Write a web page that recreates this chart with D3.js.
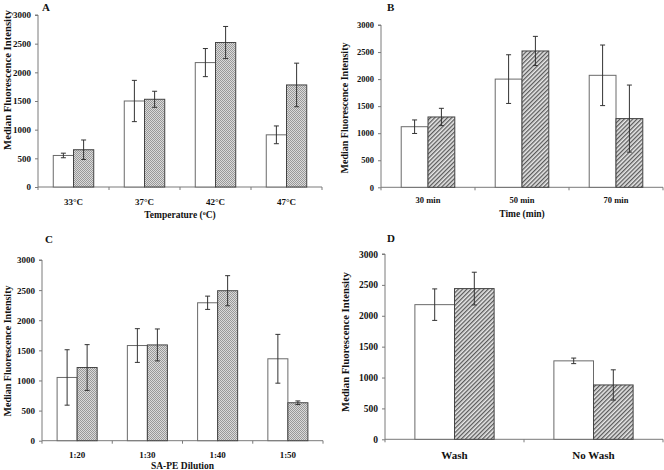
<!DOCTYPE html>
<html><head><meta charset="utf-8">
<script src="https://cdn.jsdelivr.net/npm/d3@7"></script>
<style>body{margin:0;background:#fff}svg{display:block}text{font-family:"Liberation Serif","Times New Roman",serif;font-weight:bold;fill:#111}</style>
</head><body>
<svg id="c" width="664" height="470"></svg>
<script>
// Panel A: Temperature
const catsA = ["33°C","37°C","42°C","47°C"];
const openA = [550,1500,2170,910];
const openErrA = [40,360,245,155];
const hatchA = [650,1530,2520,1780];
const hatchErrA = [170,140,280,380];
// Panel B: Time
const catsB = ["30 min","50 min","70 min"];
const openB = [1120,2000,2070];
const openErrB = [125,450,560];
const hatchB = [1300,2520,1270];
const hatchErrB = [160,270,620];
// Panel C: SA-PE Dilution
const catsC = ["1:20","1:30","1:40","1:50"];
const openC = [1050,1580,2290,1360];
const openErrC = [460,280,110,405];
const hatchC = [1215,1590,2490,630];
const hatchErrC = [380,265,250,30];
// Panel D: Wash
const catsD = ["Wash","No Wash"];
const openD = [2180,1270];
const openErrD = [255,45];
const hatchD = [2440,880];
const hatchErrD = [265,245];
const yTicks = [0,500,1000,1500,2000,2500,3000];

const svg = d3.select("#c");
const defs = svg.append("defs");
// checker pattern
const pc = defs.append("pattern").attr("id","chk").attr("patternUnits","userSpaceOnUse").attr("width",2).attr("height",2);
pc.append("rect").attr("width",2).attr("height",2).attr("fill","#dadada");
pc.append("rect").attr("width",1).attr("height",1).attr("fill","#999");
pc.append("rect").attr("x",1).attr("y",1).attr("width",1).attr("height",1).attr("fill","#999");
// diagonal pattern
const pd = defs.append("pattern").attr("id","diag").attr("patternUnits","userSpaceOnUse").attr("width",3).attr("height",3).attr("patternTransform","rotate(45)");
pd.append("rect").attr("width",3).attr("height",3).attr("fill","#e8e8e8");
pd.append("rect").attr("width",1.3).attr("height",3).attr("fill","#5a5a5a");

const panels = [
 {cats:catsA, o:openA, oe:openErrA, h:hatchA, he:hatchErrA, x0:38, x1:322, yT:15, y0:187, fill:"url(#chk)",
  letter:"A", lx:42, ly:11, tickFs:9, catFs:9, catY:205, title:"Temperature", sup:true, titleY:218, titleFs:9.5, yTitleX:7, yTitleY:80, yTitleFs:10.7},
 {cats:catsB, o:openB, oe:openErrB, h:hatchB, he:hatchErrB, x0:381, x1:663, yT:25, y0:187.3, fill:"url(#diag)",
  letter:"B", lx:387, ly:11, tickFs:8.5, catFs:8.5, catY:203, title:"Time (min)", sup:false, titleY:217, titleFs:9.5, yTitleX:344, yTitleY:108, yTitleFs:10},
 {cats:catsC, o:openC, oe:openErrC, h:hatchC, he:hatchErrC, x0:42, x1:323, yT:260, y0:440.7, fill:"url(#chk)",
  letter:"C", lx:45, ly:243, tickFs:9, catFs:9, catY:458, title:"SA-PE Dilution", sup:false, titleY:469, titleFs:9.5, yTitleX:7, yTitleY:351, yTitleFs:10},
 {cats:catsD, o:openD, oe:openErrD, h:hatchD, he:hatchErrD, x0:385, x1:663, yT:254, y0:439.3, fill:"url(#diag)",
  letter:"D", lx:387, ly:242, tickFs:9.5, catFs:11, catY:459, title:null, yTitleX:345, yTitleY:342, yTitleFs:10.7}
];

const axisCol = "#7a7a7a", barCol = "#555", errCol = "#333";

panels.forEach(p => {
  const g = svg.append("g");
  const y = d3.scaleLinear().domain([0,3000]).range([p.y0,p.yT]);
  const x = d3.scaleBand().domain(p.cats).range([p.x0,p.x1]).paddingInner(0.43).paddingOuter(0.215);
  const xs = d3.scaleBand().domain(["open","hatch"]).range([0,x.bandwidth()]);
  // y axis
  const ya = g.append("g").attr("transform",`translate(${p.x0},0)`)
    .call(d3.axisLeft(y).tickValues(yTicks).tickFormat(d3.format("d")).tickSize(3).tickPadding(4));
  ya.selectAll("path,line").attr("stroke",axisCol);
  ya.select(".domain").attr("d",`M-3,${y(3000)}H0V${y(0)}`);
  ya.selectAll("text").style("font-size",p.tickFs+"px").attr("fill","#111");
  // x axis
  g.append("line").attr("x1",p.x0).attr("x2",p.x1).attr("y1",p.y0).attr("y2",p.y0).attr("stroke",axisCol);
  const step = x.step();
  const bounds = d3.range(p.cats.length+1).map(i => p.x0 + i*step);
  g.selectAll(".xt").data(bounds).join("line").attr("x1",d=>d).attr("x2",d=>d).attr("y1",p.y0).attr("y2",p.y0+3).attr("stroke",axisCol);
  g.selectAll(".xl").data(p.cats).join("text").attr("x",d=>x(d)+x.bandwidth()/2).attr("y",p.catY)
    .attr("text-anchor","middle").style("font-size",p.catFs+"px").text(d=>d);
  // bars
  const rows = p.cats.map((c,i)=>[{c,k:"open",v:p.o[i],e:p.oe[i]},{c,k:"hatch",v:p.h[i],e:p.he[i]}]).flat();
  g.selectAll(".bar").data(rows).join("rect")
    .attr("x",d=>x(d.c)+xs(d.k)).attr("width",xs.bandwidth())
    .attr("y",d=>y(d.v)).attr("height",d=>y(0)-y(d.v))
    .attr("fill",d=>d.k==="open"?"#fff":p.fill).attr("stroke",d=>d.k==="open"?"#6a6a6a":"#444").attr("stroke-width",1);
  // error bars
  const eg = g.selectAll(".err").data(rows).join("g");
  const cx = d => x(d.c)+xs(d.k)+xs.bandwidth()/2;
  eg.append("line").attr("x1",cx).attr("x2",cx).attr("y1",d=>y(d.v+d.e)).attr("y2",d=>y(d.v-d.e)).attr("stroke",errCol);
  eg.append("line").attr("x1",d=>cx(d)-2.5).attr("x2",d=>cx(d)+2.5).attr("y1",d=>y(d.v+d.e)).attr("y2",d=>y(d.v+d.e)).attr("stroke",errCol);
  eg.append("line").attr("x1",d=>cx(d)-2.5).attr("x2",d=>cx(d)+2.5).attr("y1",d=>y(d.v-d.e)).attr("y2",d=>y(d.v-d.e)).attr("stroke",errCol);
  // letter
  g.append("text").attr("x",p.lx).attr("y",p.ly).style("font-size","11px").text(p.letter);
  // y title
  g.append("text").attr("transform",`translate(${p.yTitleX},${p.yTitleY}) rotate(-90)`).attr("text-anchor","middle")
    .attr("dy","0.35em").style("font-size",p.yTitleFs+"px").text("Median Fluorescence Intensity");
  // x title
  if (p.title) {
    const t = g.append("text").attr("x",(p.x0+p.x1)/2).attr("y",p.titleY).attr("text-anchor","middle").style("font-size",p.titleFs+"px");
    if (p.sup) {
      t.append("tspan").text("Temperature (");
      t.append("tspan").attr("dy","-3").style("font-size","6px").text("o");
      t.append("tspan").attr("dy","3").text("C)");
    } else t.text(p.title);
  }
});
</script>
</body></html>
